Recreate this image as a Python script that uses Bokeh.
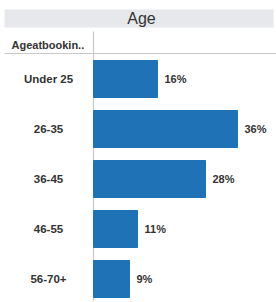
from bokeh.plotting import figure
from bokeh.models import Range1d, ColumnDataSource
from bokeh.core.properties import value
from bokeh.embed import file_html
from bokeh.resources import INLINE

# ---- data ----
categories = ["Under 25", "26-35", "36-45", "46-55", "56-70+"]
percent = [16, 36, 28, 11, 9]
title_text = "Age"
header_text = "Ageatbookin.."

FONT = value("Liberation Sans")
TXT = "#333333"
BAR = "#1f72b5"
LINE = "#c8c8c8"

rows = list(range(len(categories)))
src = ColumnDataSource(dict(
    y=rows,
    cat=categories,
    val=percent,
    lab=[f"{v}%" for v in percent],
))

W, H = 276, 302
p = figure(width=W, height=H, output_backend="svg", toolbar_location=None,
           x_range=Range1d(-23.25, 45.75), y_range=Range1d(4.47, -1.57),
           x_axis_type=None, y_axis_type=None, min_border=0,
           background_fill_color="white", border_fill_color="white")
p.outline_line_color = None
p.grid.visible = False

# header band with title
p.quad(left=-22.25, right=45.0, top=-1.39, bottom=-1.03,
       fill_color="#e6e8eb", line_color=None)
p.text(x=[12.0], y=[-1.21], text=[title_text], text_font=FONT,
       text_font_size="16px", text_color=TXT, text_align="center",
       text_baseline="middle")
# column header
p.text(x=[-20.5], y=[-0.69], text=[header_text], text_font=FONT,
       text_font_size="11px", text_font_style="bold", text_color=TXT,
       text_align="left", text_baseline="middle")
# header separator and vertical divider
p.segment(x0=[-22.25], x1=[45.75], y0=[-0.51], y1=[-0.51],
          line_color=LINE, line_width=1.2)
p.segment(x0=[0], x1=[0], y0=[-0.95], y1=[4.43],
          line_color=LINE, line_width=1.2)

# bars
p.hbar(y="y", left=0, right="val", height=0.74, source=src,
       fill_color=BAR, line_color=BAR)

# category labels
p.text(x=-11.25, y="y", text="cat", source=src, text_font=FONT,
       text_font_size="11.5px", text_font_style="bold", text_color=TXT,
       text_align="center", text_baseline="middle")
# value labels
p.text(x="val", y="y", text="lab", source=src, x_offset=7, text_font=FONT,
       text_font_size="11px", text_font_style="bold", text_color=TXT,
       text_align="left", text_baseline="middle")

open("out.html", "w").write(file_html(p, INLINE))
